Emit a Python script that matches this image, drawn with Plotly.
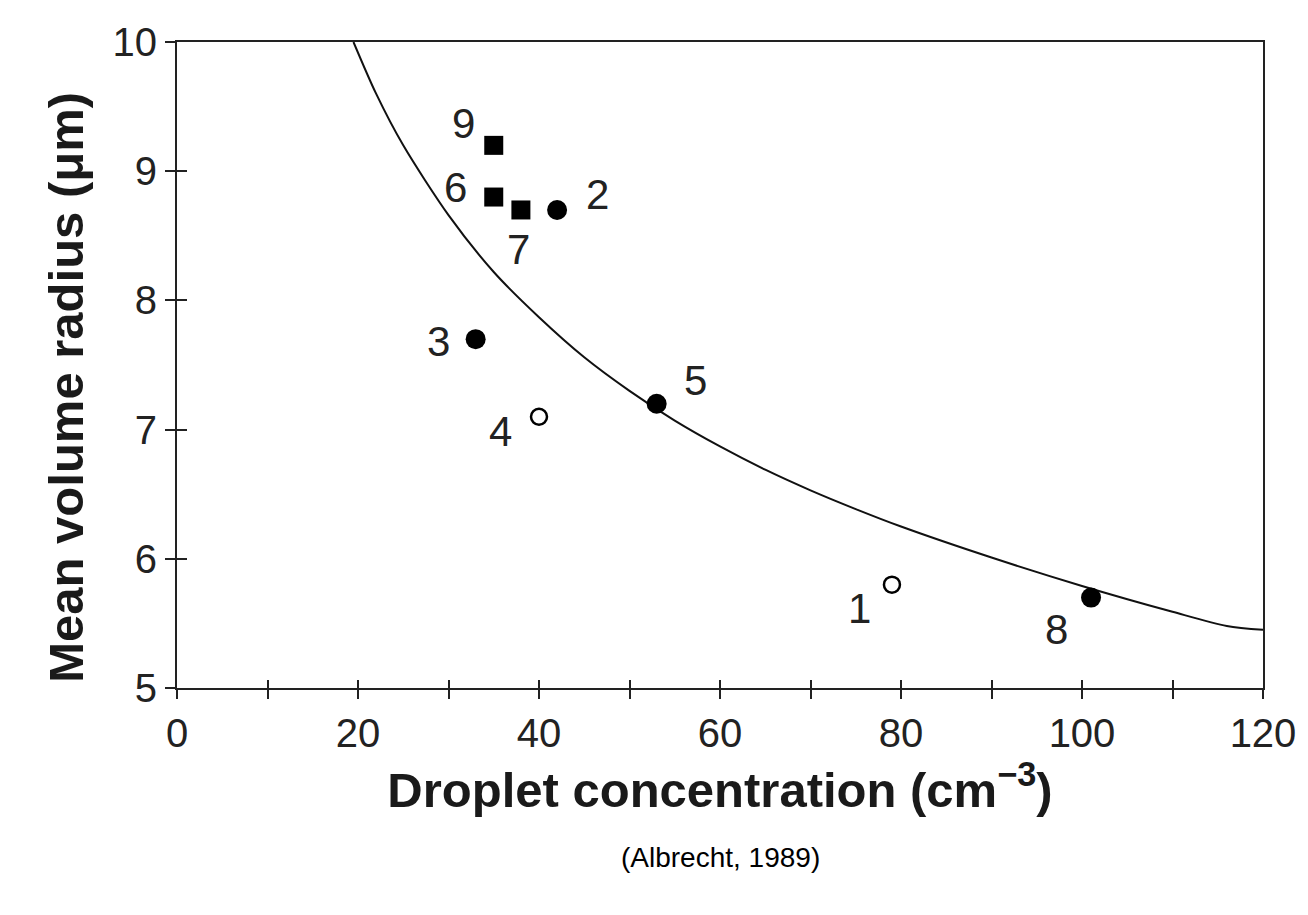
import plotly.graph_objects as go

# Data points (droplet concentration, mean volume radius)
filled_circle_x = [42, 33, 53, 101]
filled_circle_y = [8.7, 7.7, 7.2, 5.7]
filled_circle_lbl = ["2", "3", "5", "8"]

open_circle_x = [79, 40]
open_circle_y = [5.8, 7.1]
open_circle_lbl = ["1", "4"]

square_x = [35, 35, 38]
square_y = [9.2, 8.8, 8.7]
square_lbl = ["9", "6", "7"]

# Theoretical curve
curve_x = [19.5, 22, 25, 30, 35, 40, 45, 50, 55, 60, 65, 70, 75, 80, 90, 100, 110, 116, 120]
curve_y = [10.0, 9.6, 9.2, 8.66, 8.22, 7.87, 7.56, 7.30, 7.07, 6.87, 6.69, 6.53, 6.385, 6.25, 6.01, 5.79, 5.59, 5.48, 5.45]

x_major = [0, 20, 40, 60, 80, 100, 120]
x_all_ticks = [0, 10, 20, 30, 40, 50, 60, 70, 80, 90, 100, 110, 120]
y_ticks = [5, 6, 7, 8, 9, 10]

# label offsets (pixels) per label
label_shift = {
    "9": (-30, 22), "6": (-38, 10), "7": (-2, -40), "2": (40, 15),
    "3": (-37, -2), "4": (-39, -15), "5": (39, 23), "1": (-32, -24), "8": (-35, -32),
}

FONT = "Liberation Sans, Arial, Helvetica, sans-serif"
AX = "#222222"

fig = go.Figure()
fig.add_trace(go.Scatter(x=curve_x, y=curve_y, mode="lines",
                         line=dict(color="#111111", width=2, shape="spline", smoothing=0.8),
                         showlegend=False, hoverinfo="skip"))
fig.add_trace(go.Scatter(x=square_x, y=square_y, mode="markers",
                         marker=dict(symbol="square", size=19, color="black"), showlegend=False))
fig.add_trace(go.Scatter(x=filled_circle_x, y=filled_circle_y, mode="markers",
                         marker=dict(symbol="circle", size=20, color="black"), showlegend=False))
fig.add_trace(go.Scatter(x=open_circle_x, y=open_circle_y, mode="markers",
                         marker=dict(symbol="circle-open", size=16, color="black", line=dict(width=2.5)),
                         showlegend=False))

for xs, ys, ls in [(square_x, square_y, square_lbl), (filled_circle_x, filled_circle_y, filled_circle_lbl),
                   (open_circle_x, open_circle_y, open_circle_lbl)]:
    for x, y, l in zip(xs, ys, ls):
        dx, dy = label_shift[l]
        fig.add_annotation(x=x, y=y, text=l, showarrow=False, xshift=dx, yshift=dy,
                           font=dict(family=FONT, size=42, color="#222222"))

# Overlay axes for inward tick halves (crossing ticks)
fig.add_trace(go.Scatter(x=[None], y=[None], xaxis="x2", yaxis="y2", showlegend=False, hoverinfo="skip"))

# Y axis title
fig.add_annotation(x=-0.103, y=0.465, xref="paper", yref="paper", textangle=-90, showarrow=False,
                   xanchor="center", yanchor="middle",
                   text="<b>Mean volume radius (μm)</b>", font=dict(family=FONT, size=49, color="#1a1a1a"))

# Source note
fig.add_annotation(x=0.5, y=-0.263, xref="paper", yref="paper", text="(Albrecht, 1989)", showarrow=False,
                   yanchor="middle",
                   font=dict(family="Liberation Sans Narrow, Arial Narrow, Liberation Sans, sans-serif",
                             size=28, color="black"))

fig.update_layout(
    width=1300, height=907,
    margin=dict(l=169, r=43, t=33, b=227),
    paper_bgcolor="white", plot_bgcolor="white",
    font=dict(family=FONT, color="#222222"),
    xaxis=dict(range=[0, 120], tickvals=x_major, ticks="outside", ticklen=9,
               tickwidth=2, tickcolor=AX, showline=True, linewidth=2, linecolor=AX, mirror=True,
               minor=dict(tickvals=x_all_ticks, ticks="outside", ticklen=9, tickwidth=2, tickcolor=AX,
                          showgrid=False),
               showgrid=False, zeroline=False, tickfont=dict(size=40, family=FONT),
               title=dict(text="<b>Droplet concentration (cm<sup>−3</sup>)</b>",
                          font=dict(size=49, family=FONT, color="#1a1a1a"), standoff=8)),
    yaxis=dict(range=[5, 10], tickvals=y_ticks, ticks="outside", ticklen=10, tickwidth=2, tickcolor=AX,
               showline=True, linewidth=2, linecolor=AX, mirror=True, showgrid=False, zeroline=False,
               tickfont=dict(size=40, family=FONT)),
    xaxis2=dict(range=[0, 120], overlaying="x", tickvals=x_all_ticks, ticks="inside", ticklen=8, tickwidth=2,
                tickcolor=AX, showticklabels=False, showgrid=False, zeroline=False, showline=False),
    yaxis2=dict(range=[5, 10], overlaying="y", tickvals=y_ticks, ticks="inside", ticklen=10, tickwidth=2,
                tickcolor=AX, showticklabels=False, showgrid=False, zeroline=False, showline=False),
)

fig.write_html("out.html")
